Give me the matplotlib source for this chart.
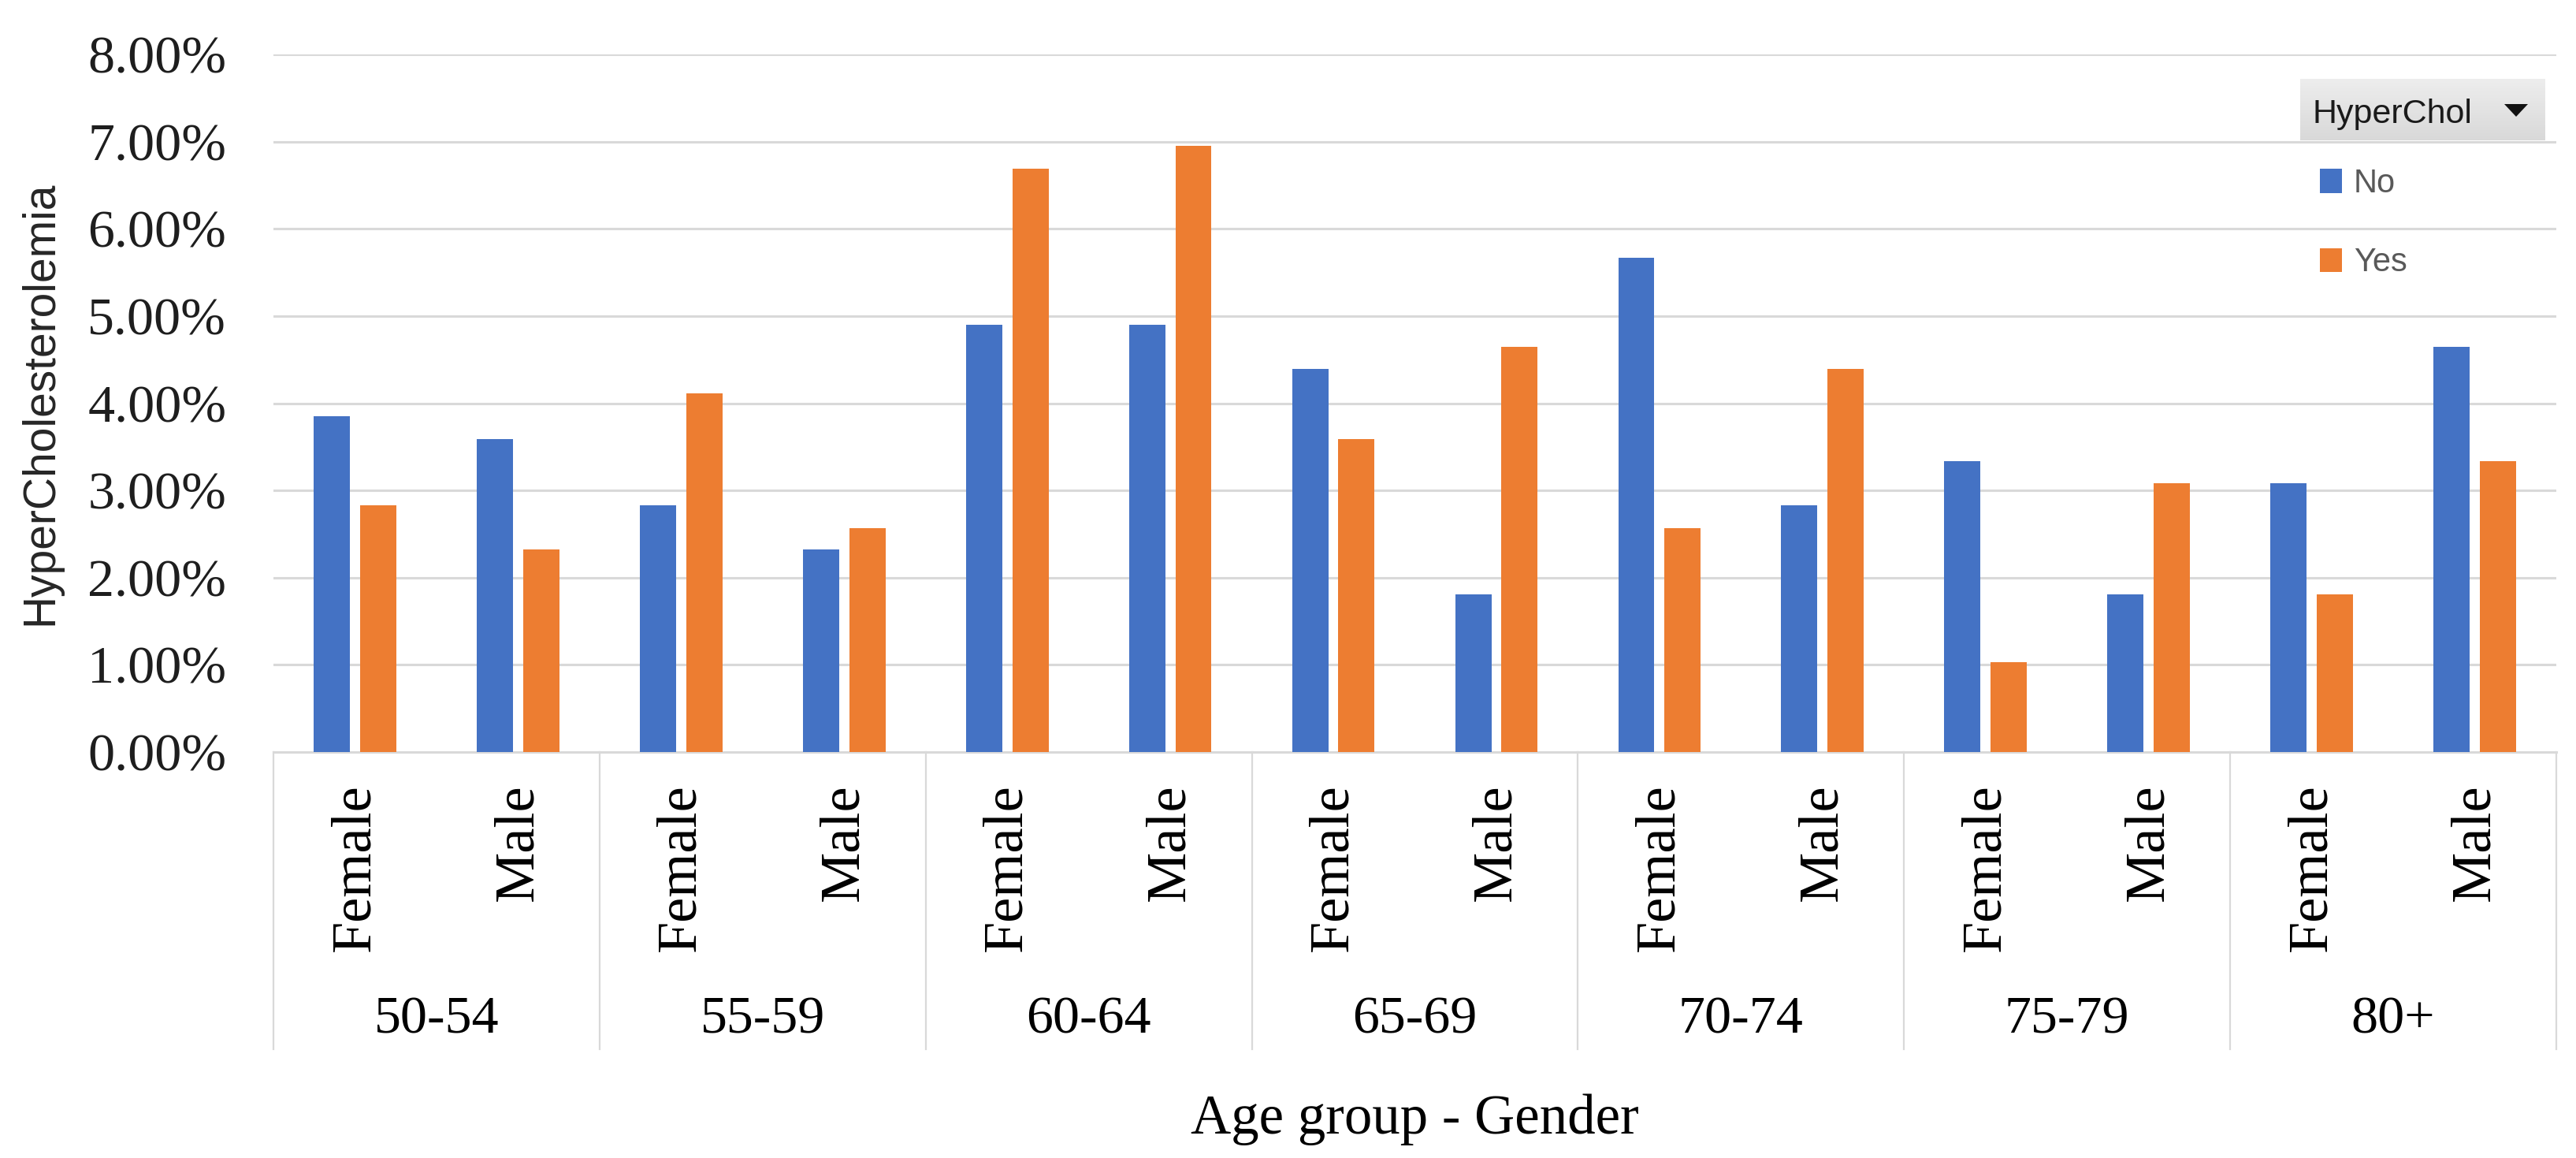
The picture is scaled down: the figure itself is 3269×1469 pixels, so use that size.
import numpy as np
import matplotlib.pyplot as plt
from matplotlib.patches import Polygon
from matplotlib.ticker import FuncFormatter

age_groups = ["50-54", "55-59", "60-64", "65-69", "70-74", "75-79", "80+"]
genders = ["Female", "Male"]
# percent of HyperCholesterolemia per age group / gender
no_pct = [3.85, 3.59, 2.83, 2.32, 4.90, 4.90, 4.39, 1.81, 5.67, 2.83, 3.34, 1.81, 3.08, 4.65]
yes_pct = [2.83, 2.32, 4.11, 2.57, 6.69, 6.95, 3.59, 4.65, 2.57, 4.39, 1.03, 3.08, 1.81, 3.34]

W, H = 3269, 1469
BLUE = "#4472C4"
ORANGE = "#ED7D31"
GRID = "#d9d9d9"
SERIF = "Liberation Serif"
SANS = "Liberation Sans"

fig = plt.figure(figsize=(W / 100, H / 100), dpi=100)
ax = fig.add_axes([347 / W, 1 - 954 / H, (3244 - 347) / W, (954 - 69) / H])

x = np.arange(len(no_pct))
bw = 0.222
off = 0.142
ax.bar(x - off, np.array(no_pct) / 100, bw, color=BLUE, label="No", zorder=3)
ax.bar(x + off, np.array(yes_pct) / 100, bw, color=ORANGE, label="Yes", zorder=3)

ax.set_xlim(-0.5, len(no_pct) - 0.5)
ax.set_ylim(0, 0.08)
ax.set_yticks(np.arange(0, 0.081, 0.01))
ax.yaxis.set_major_formatter(FuncFormatter(lambda v, p: f"{v * 100:.2f}%"))
ax.grid(axis="y", color=GRID, linewidth=2.2, zorder=0)
ax.set_axisbelow(True)

for s in ["top", "right", "left"]:
    ax.spines[s].set_visible(False)
ax.spines["bottom"].set_color(GRID)
ax.spines["bottom"].set_linewidth(2.2)

ax.tick_params(axis="y", length=0, pad=43, labelsize=49, labelcolor="#1e1e1e")
for t in ax.get_yticklabels():
    t.set_fontfamily(SERIF)

ax.set_xticks(x)
ax.set_xticklabels(genders * len(age_groups), rotation=90, fontfamily=SERIF,
                   fontsize=52, va="top", ha="center")
ax.tick_params(axis="x", length=0, pad=29)

# age group labels and separators
trans = ax.get_xaxis_transform()
for i, g in enumerate(age_groups):
    ax.text(2 * i + 0.5, -0.403, g, transform=trans, ha="center", va="baseline",
            fontfamily=SERIF, fontsize=49)
for i in range(len(age_groups) + 1):
    ax.plot([2 * i - 0.5, 2 * i - 0.5], [0, -0.4255], transform=trans, color=GRID,
            linewidth=1.6, clip_on=False)

ax.text(0.5, -0.547, "Age group - Gender", transform=ax.transAxes, ha="center",
        va="baseline", fontfamily=SERIF, fontsize=51)
ax.text(-0.1021, 0.5, "HyperCholesterolemia", transform=ax.transAxes, rotation=90,
        ha="center", va="center", fontfamily=SANS, fontsize=41, color="#262626")

# legend header like a pivot chart field button (light gray gradient)
hax = fig.add_axes([2919 / W, 1 - 178 / H, (3230 - 2919) / W, 78 / H], zorder=5)
grad = np.linspace(0.93, 0.85, 64).reshape(-1, 1)
hax.imshow(np.dstack([grad, grad, grad]), aspect="auto", extent=(0, 1, 0, 1),
           interpolation="bilinear")
hax.set_xlim(0, 1)
hax.set_ylim(0, 1)
hax.axis("off")
fig.text(2935 / W, 1 - 156 / H, "HyperChol", ha="left", va="baseline",
         fontfamily=SANS, fontsize=31, color="#1a1a1a", zorder=6)
fig.patches.append(Polygon([(3178 / W, 1 - 132 / H), (3208 / W, 1 - 132 / H),
                            (3193 / W, 1 - 148 / H)], closed=True,
                           transform=fig.transFigure, facecolor="#111111",
                           edgecolor="none", zorder=7))

leg = ax.legend(loc="upper left", bbox_to_anchor=(2944 / W, 1 - 213 / H),
                bbox_transform=fig.transFigure, frameon=False, borderpad=0,
                borderaxespad=0, handlelength=0.67, handleheight=0.74,
                handletextpad=0.36, labelspacing=1.45,
                prop={"family": SANS, "size": 30})
for t in leg.get_texts():
    t.set_color("#595959")

fig.savefig("out.png", dpi=100, facecolor="white")
